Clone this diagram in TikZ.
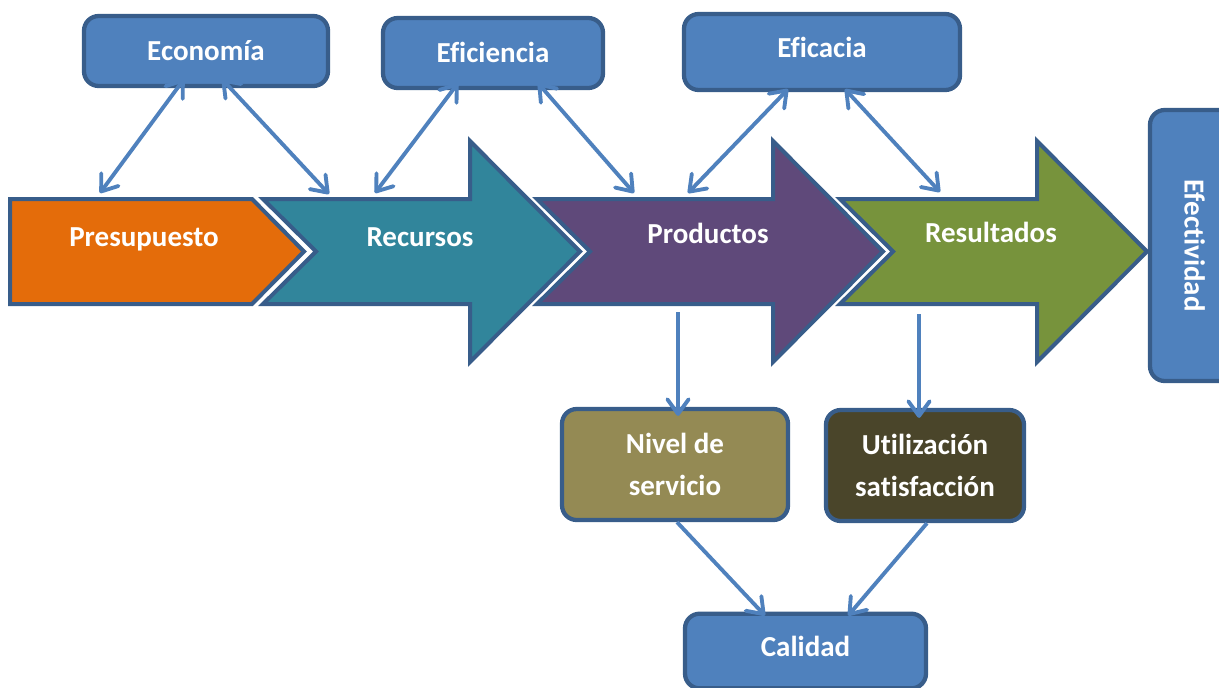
\documentclass[tikz,border=0pt]{standalone}
\usepackage{fontspec}
\setmainfont{Carlito}[Ligatures=NoCommon]
\usetikzlibrary{arrows.meta}

\definecolor{cajaazul}{RGB}{79,129,189}
\definecolor{bordeazul}{RGB}{56,93,138}
\definecolor{naranja}{RGB}{228,108,10}
\definecolor{turquesa}{RGB}{49,133,155}
\definecolor{morado}{RGB}{95,73,122}
\definecolor{verde}{RGB}{119,147,60}
\definecolor{caqui}{RGB}{148,138,84}
\definecolor{oliva}{RGB}{74,69,42}

\newcommand{\letra}{\fontsize{21.75}{31.5}\selectfont\bfseries}

\tikzset{every picture/.style={line width=0.75pt},
  caja/.style={draw=bordeazul, line width=3.2pt, fill=cajaazul, rounded corners=11pt,
    text=white, font=\letra, align=center, inner sep=0pt},
  unalinea/.style={text height=14pt, text depth=0pt},
  flecha/.style={draw=bordeazul, line width=3pt, line join=miter},
  rotulo/.style={text=white, font=\letra, anchor=base, inner sep=0pt},
  enlace/.style={draw=cajaazul, line width=2.9pt,
    >={Straight Barb[length=11pt,width=16pt,round]}}
}

\begin{document}
\begin{tikzpicture}[x=0.75pt,y=0.75pt,yscale=-1,xscale=1]
\useasboundingbox (0,0) rectangle (1219,687);

%Shape: Chevron presupuesto
\draw [flecha, fill=naranja] (10,199) -- (252,199) -- (304,251.5) -- (252,304) -- (10,304) -- cycle ;
%Shape: Arrow recursos
\draw [flecha, fill=turquesa] (263,199) -- (470,199) -- (470,141) -- (580,251.5) -- (470,362) -- (470,304) -- (263,304) -- (316,251.5) -- cycle ;
%Shape: Arrow productos
\draw [flecha, fill=morado] (537,199) -- (773,199) -- (773,141) -- (883,251.5) -- (773,362) -- (773,304) -- (537,304) -- (590,251.5) -- cycle ;
%Shape: Arrow resultados
\draw [flecha, fill=verde] (840,199) -- (1037,199) -- (1037,141) -- (1147,251.5) -- (1037,362) -- (1037,304) -- (840,304) -- (893,251.5) -- cycle ;

% puntos de llegada sobre las flechas
\coordinate (pre-n) at (100,193);
\coordinate (rec-nw) at (329,194);
\coordinate (rec-n) at (375,193);
\coordinate (pro-nw) at (634,193);
\coordinate (pro-n) at (688,193);
\coordinate (res-n) at (940,192);
\coordinate (pro-s) at (678,312);
\coordinate (res-s) at (919,314);

% Text Node
\node [rotulo] (pre) at (144,246) {Presupuesto};
% Text Node
\node [rotulo] (rec) at (420,246) {Recursos};
% Text Node
\node [rotulo] (pro) at (708,243) {Productos};
% Text Node
\node [rotulo] (res) at (991,242) {Resultados};

%Shape: Rounded Rect
\node [caja, unalinea, minimum width=183pt, minimum height=52.5pt] (eco) at (206,51) {Economía};
\node [caja, unalinea, minimum width=165pt, minimum height=52.5pt] (efi) at (493,53) {Eficiencia};
\node [caja, unalinea, text depth=6pt, minimum width=207pt, minimum height=57pt] (efa) at (822,52) {Eficacia};
\node [caja, unalinea, rotate=-90, minimum width=203.25pt, minimum height=66pt] (efe) at (1194,245.5) {Efectividad};
\node [caja, fill=caqui, minimum width=169.5pt, minimum height=83.25pt] (niv) at (675,464.5) {Nivel de\\servicio};
\node [caja, fill=oliva, minimum width=148.5pt, minimum height=83.25pt] (uti) at (925,465.5) {Utilización\\satisfacción};
\node [caja, unalinea, text depth=6pt, minimum width=180.75pt, minimum height=56pt] (cal) at (805.5,651) {Calidad};

%Straight Lines
\draw [enlace, <->] ([xshift=-16.5pt,yshift=-6.75pt]eco.south) -- (pre-n);
\draw [enlace, <->] ([xshift=12pt,yshift=-6.75pt]eco.south) -- (rec-nw);
\draw [enlace, <->] ([xshift=-26.25pt,yshift=-5.25pt]efi.south) -- (rec-n);
\draw [enlace, <->] ([xshift=33.75pt,yshift=-5.25pt]efi.south) -- (pro-nw);
\draw [enlace, <->] ([xshift=-25.5pt,yshift=-2.25pt]efa.south) -- (pro-n);
\draw [enlace, <->] ([xshift=17.25pt,yshift=-2.25pt]efa.south) -- (res-n);
%Straight Lines
\draw [enlace, ->] (pro-s) -- ([xshift=2.25pt,yshift=6.75pt]niv.north);
\draw [enlace, ->] (res-s) -- ([xshift=-4.5pt,yshift=7.5pt]uti.north);
\draw [enlace, ->] ([xshift=1.5pt]niv.south) -- ([xshift=-30.4pt,yshift=3pt]cal.north);
\draw [enlace, ->] ([xshift=1.5pt]uti.south) -- ([xshift=32pt,yshift=3pt]cal.north);

\end{tikzpicture}
\end{document}
